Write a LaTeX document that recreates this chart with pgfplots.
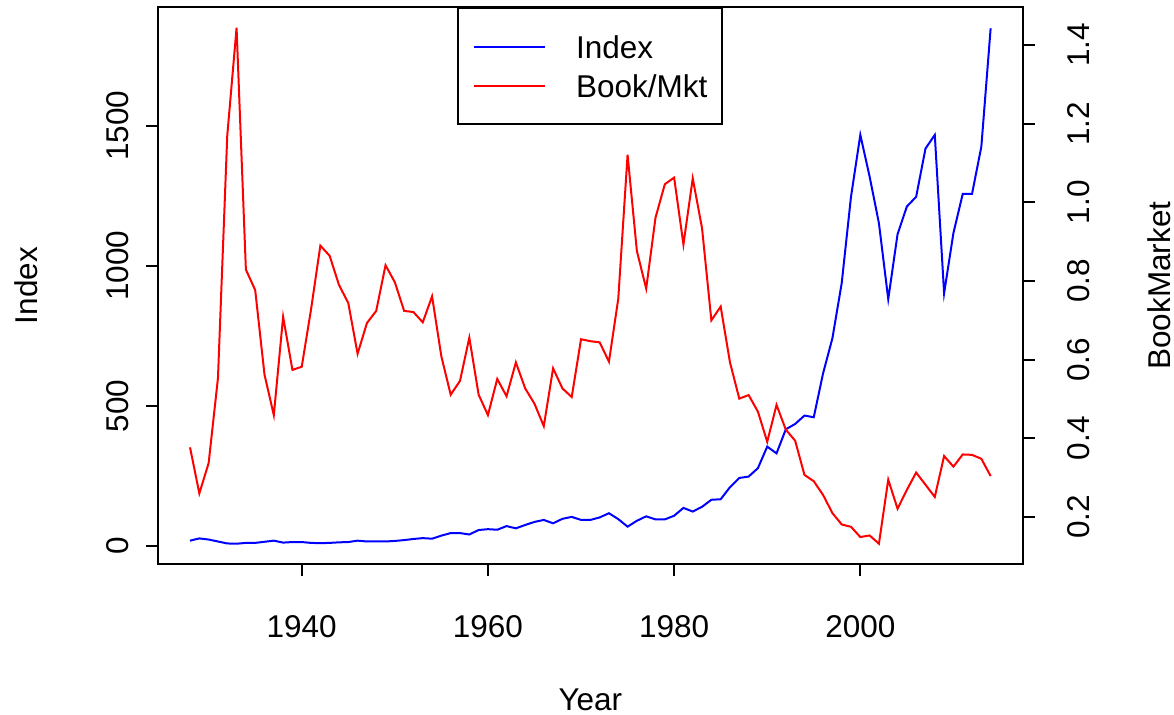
\documentclass[border=0pt]{standalone}
\usepackage{fontspec}
\setmainfont{Liberation Sans}
\usepackage{pgfplots}
\usepackage{pgfplotstable}
\pgfplotsset{compat=1.18}

\pgfplotstableread{
year idx bm
1928 18 0.377
1929 26 0.260
1930 22 0.337
1931 15 0.553
1932 8 1.170
1933 7 1.444
1934 10 0.829
1935 10 0.777
1936 14 0.562
1937 18 0.459
1938 11 0.709
1939 13 0.574
1940 13 0.582
1941 10 0.728
1942 9 0.890
1943 10 0.864
1944 12 0.790
1945 13 0.744
1946 18 0.615
1947 15 0.693
1948 15 0.724
1949 15 0.840
1950 17 0.797
1951 20 0.724
1952 24 0.721
1953 27 0.695
1954 25 0.761
1955 36 0.608
1956 45 0.511
1957 45 0.546
1958 40 0.656
1959 56 0.511
1960 59 0.459
1961 57 0.551
1962 70 0.507
1963 62 0.593
1964 74 0.527
1965 85 0.488
1966 92 0.431
1967 80 0.578
1968 96 0.527
1969 103 0.505
1970 92 0.652
1971 92 0.647
1972 101 0.644
1973 116 0.595
1974 95 0.755
1975 68 1.121
1976 89 0.876
1977 105 0.781
1978 94 0.961
1979 94 1.046
1980 107 1.063
1981 135 0.893
1982 122 1.061
1983 139 0.934
1984 164 0.700
1985 166 0.735
1986 209 0.593
1987 242 0.501
1988 247 0.510
1989 277 0.468
1990 354 0.391
1991 330 0.485
1992 416 0.422
1993 435 0.394
1994 465 0.307
1995 459 0.291
1996 616 0.256
1997 741 0.210
1998 938 0.181
1999 1247 0.175
2000 1468 0.149
2001 1319 0.153
2002 1152 0.132
2003 881 0.295
2004 1113 0.221
2005 1212 0.269
2006 1247 0.313
2007 1419 0.282
2008 1468 0.251
2009 902 0.355
2010 1117 0.328
2011 1257 0.359
2012 1257 0.358
2013 1426 0.348
2014 1849 0.304
}\datatab

\newcommand{\rfont}{\fontsize{15.75}{19}\selectfont}

\begin{document}
\begin{tikzpicture}
\useasboundingbox (-79pt,-75.5pt) rectangle (508pt,282pt);
\pgfplotsset{
  rbase/.style={
    at={(0pt,0pt)}, anchor=south west,
    scale only axis, width=432.35pt, height=278.35pt,
    xmin=1924.56, xmax=2017.44,
    axis line style={line width=1pt},
    tick align=outside, major tick length=6pt,
    tick style={black, line width=1pt},
    /pgf/number format/1000 sep={},
    /pgf/number format/assume math mode=true,
    ticklabel style={font=\rfont},
    label style={font=\rfont},
  }
}
\begin{axis}[rbase,
  ymin=-65.4, ymax=1924,
  xtick={1940,1960,1980,2000}, xtick pos=bottom,
  ytick={0,500,1000,1500}, ytick pos=left,
  xticklabel style={anchor=base}, xticklabel shift=31pt,
  yticklabel style={rotate=90, anchor=base}, yticklabel shift=8.5pt,
  xlabel={Year},
  xlabel style={at={([yshift=-73.5pt]axis description cs:0.5,0)}, anchor=base},
  ylabel={Index},
  ylabel style={at={([xshift=-60pt]axis description cs:0,0.5)}, anchor=base, rotate=0},
]
\addplot[blue, line width=1pt] table[x=year, y=idx] {\datatab};
\end{axis}
\begin{axis}[rbase,
  ymin=0.0805, ymax=1.496,
  hide x axis,
  ytick={0.2,0.4,0.6,0.8,1.0,1.2,1.4}, ytick pos=right, yticklabel pos=right,
  yticklabel style={rotate=90, anchor=base, /pgf/number format/.cd, fixed, fixed zerofill, precision=1},
  yticklabel shift=27.5pt,
  ylabel={BookMarket},
  ylabel style={at={([xshift=73.7pt]axis description cs:1,0.5)}, anchor=base, rotate=0},
  legend style={at={(0.5,1)}, anchor=north, draw=black, line width=1pt, fill=white,
    inner xsep=7.5pt, inner ysep=13.4pt, row sep=8pt,
    nodes={inner sep=0pt, font=\rfont, text height=11.5pt, text depth=0pt},
    /tikz/every odd column/.style={column sep=15pt}},
  legend cell align=left,
  legend image code/.code={\path (0pt,0pt) -- (35.5pt,0pt); \draw[#1] (6.5pt,0pt) -- (35.5pt,0pt);},
]
\addlegendimage{blue, line width=1pt}
\addlegendentry{Index}
\addplot[red, line width=1pt] table[x=year, y=bm] {\datatab};
\addlegendentry{Book/Mkt}
\end{axis}
\end{tikzpicture}
\end{document}
